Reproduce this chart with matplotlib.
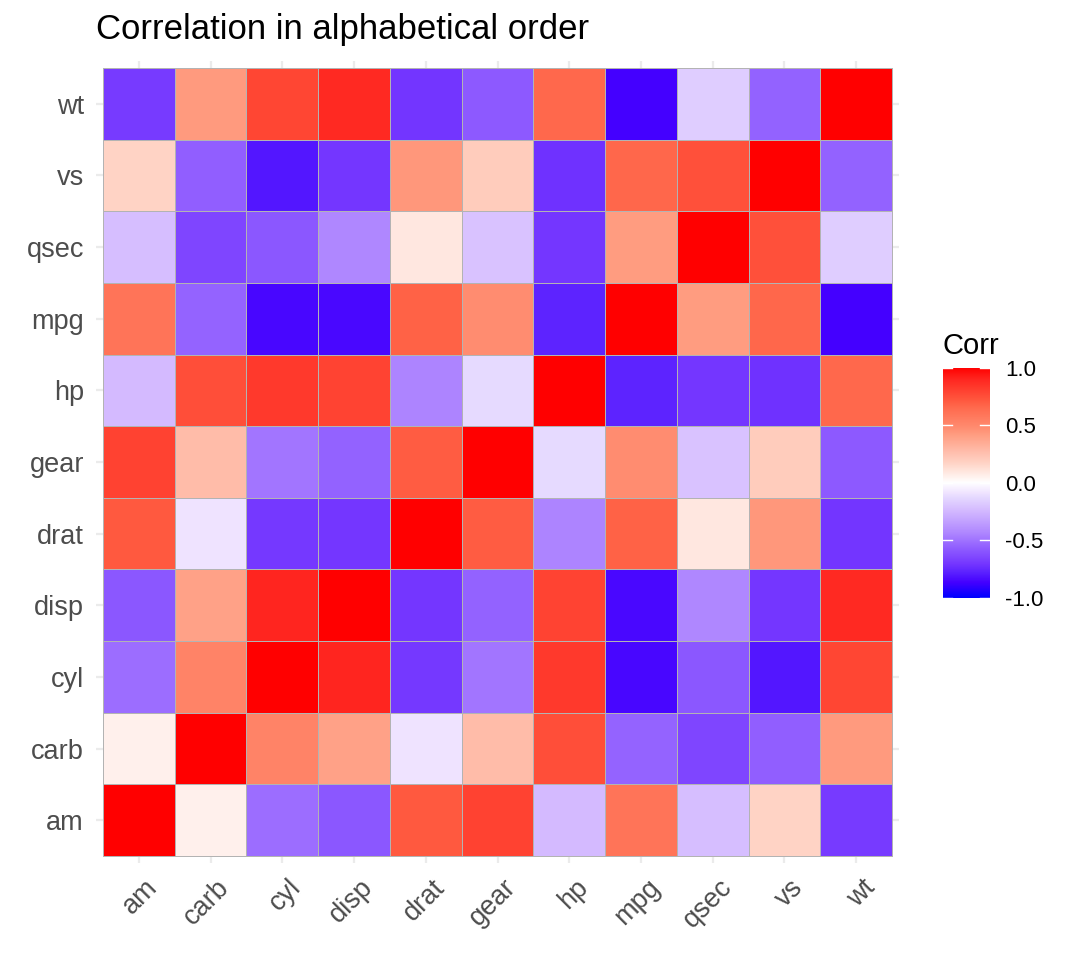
import numpy as np
import matplotlib
matplotlib.use("Agg")
from matplotlib import pyplot as plt
from matplotlib.colors import LinearSegmentedColormap
from matplotlib.transforms import ScaledTranslation

plt.rcParams['font.family'] = ['Liberation Sans', 'DejaVu Sans']

variables = ["am", "carb", "cyl", "disp", "drat", "gear", "hp", "mpg", "qsec", "vs", "wt"]

# correlation rows, same order as variables
am = [1.0, 0.058, -0.523, -0.591, 0.713, 0.794, -0.243, 0.600, -0.230, 0.168, -0.692]
carb = [0.058, 1.0, 0.527, 0.395, -0.091, 0.274, 0.750, -0.551, -0.656, -0.570, 0.428]
cyl = [-0.523, 0.527, 1.0, 0.902, -0.700, -0.493, 0.832, -0.852, -0.591, -0.811, 0.782]
disp = [-0.591, 0.395, 0.902, 1.0, -0.710, -0.556, 0.791, -0.848, -0.434, -0.710, 0.888]
drat = [0.713, -0.091, -0.700, -0.710, 1.0, 0.700, -0.449, 0.681, 0.091, 0.440, -0.712]
gear = [0.794, 0.274, -0.493, -0.556, 0.700, 1.0, -0.126, 0.480, -0.213, 0.206, -0.583]
hp = [-0.243, 0.750, 0.832, 0.791, -0.449, -0.126, 1.0, -0.776, -0.708, -0.723, 0.659]
mpg = [0.600, -0.551, -0.852, -0.848, 0.681, 0.480, -0.776, 1.0, 0.419, 0.664, -0.868]
qsec = [-0.230, -0.656, -0.591, -0.434, 0.091, -0.213, -0.708, 0.419, 1.0, 0.745, -0.175]
vs = [0.168, -0.570, -0.811, -0.710, 0.440, 0.206, -0.723, 0.664, 0.745, 1.0, -0.555]
wt = [-0.692, 0.428, 0.782, 0.888, -0.712, -0.583, 0.659, -0.868, -0.175, -0.555, 1.0]

legend_ticks = [-1.0, -0.5, 0.0, 0.5, 1.0]

corr = np.array([am, carb, cyl, disp, drat, gear, hp, mpg, qsec, vs, wt])

# blue - white - red gradient, stops matched to the picture
stops = [(-1.0, "#0000FF"), (-0.87, "#4400FF"), (-0.78, "#5C22FF"),
         (-0.71, "#7436FF"), (-0.59, "#8C58FF"), (-0.434, "#B088FF"),
         (-0.243, "#D4BAFF"), (-0.126, "#E6DAFF"), (-0.09, "#F0E4FF"),
         (0.0, "#FFFFFF"), (0.168, "#FFD4C6"), (0.274, "#FFBCAA"),
         (0.42, "#FF9C80"), (0.48, "#FF8C70"), (0.66, "#FF684C"),
         (0.71, "#FF5A40"), (0.90, "#FF2620"), (1.0, "#FF0000")]
cmap = LinearSegmentedColormap.from_list(
    "corr", [((v + 1) / 2, c) for v, c in stops], N=512)

fig = plt.figure(figsize=(10.75, 9.6), dpi=100)
ax = fig.add_axes([0.0891, 0.1008, 0.7474, 0.8359])

n = len(variables)
edges = np.arange(n + 1) - 0.5
ax.pcolormesh(edges, edges, corr, cmap=cmap, vmin=-1, vmax=1,
              edgecolor="#B3B3B3", linewidth=0.7, zorder=2)
ax.set_xlim(-0.6, n - 0.4)
ax.set_ylim(-0.6, n - 0.4)
ax.set_axisbelow(True)
ax.grid(True, color="#EBEBEB", linewidth=1.6, zorder=0)
for s in ax.spines.values():
    s.set_visible(False)
ax.set_xticks(range(n))
ax.set_yticks(range(n))
ax.set_xticklabels(variables, rotation=45, ha="right", va="top",
                   rotation_mode="anchor", fontsize=19.5, color="#4D4D4D")
ax.set_yticklabels(variables, fontsize=19.5, color="#4D4D4D")
ax.tick_params(length=0)
ax.tick_params(axis="y", pad=8.5)
ax.tick_params(axis="x", pad=8)
shift = ScaledTranslation(6 / 100, 0, fig.dpi_scale_trans)
for lab in ax.get_xticklabels():
    lab.set_transform(lab.get_transform() + shift)
ax.set_title("Correlation in alphabetical order", loc="left", fontsize=25,
             pad=16, color="black")

# legend colour bar
cax = fig.add_axes([0.8772, 0.3771, 0.0428, 0.2396])
grad = np.linspace(-1, 1, 300).reshape(-1, 1)
cax.imshow(grad, cmap=cmap, vmin=-1, vmax=1, aspect="auto", origin="lower",
           extent=[0, 1, -1, 1])
for v in legend_ticks:
    cax.plot([0, 0.2], [v, v], color="white", lw=1, clip_on=False)
    cax.plot([0.8, 1], [v, v], color="white", lw=1, clip_on=False)
cax.set_xlim(0, 1)
cax.set_ylim(-1, 1)
cax.set_xticks([])
cax.yaxis.tick_right()
cax.set_yticks(legend_ticks)
cax.set_yticklabels([f"{v:.1f}" for v in legend_ticks], fontsize=16)
cax.tick_params(length=0, pad=11.5)
for s in cax.spines.values():
    s.set_visible(False)
cax.set_title("Corr", loc="left", fontsize=21, pad=10)

fig.savefig("out.png", dpi=100)
